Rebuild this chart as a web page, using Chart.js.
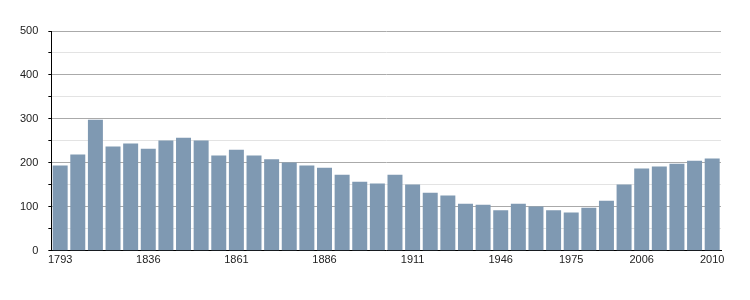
<!DOCTYPE html>
<html>
<head>
<meta charset="utf-8">
<script src="https://cdn.jsdelivr.net/npm/chart.js@4/dist/chart.umd.min.js"></script>
<style>
  html, body { margin: 0; padding: 0; background: #fff; }
  #wrap { width: 750px; height: 300px; position: relative; }
</style>
</head>
<body>
<div id="wrap"><canvas id="canvas"></canvas></div>
<script>
var years = ['1793', '1800', '1806', '1821', '1831', '1836', '1841', '1846', '1851', '1856',
    '1861', '1866', '1872', '1876', '1881', '1886', '1891', '1896', '1901', '1906',
    '1911', '1921', '1926', '1931', '1936', '1946', '1954', '1962', '1968', '1975',
    '1982', '1990', '1999', '2006', '2007', '2008', '2009', '2010'];
var population = [194, 219, 298, 237, 244, 232, 251, 257, 251, 217,
    230, 217, 208, 201, 194, 189, 173, 157, 153, 173,
    151, 132, 126, 107, 105, 92, 107, 101, 92, 87,
    98, 114, 151, 187, 192, 198, 205, 210];
var shownYears = ['1793', '1836', '1861', '1886', '1911', '1946', '1975', '2006', '2010'];
var yTicks = [0, 100, 200, 300, 400, 500];

try {
    var ctx = document.getElementById("canvas").getContext('2d');

    var myChart = new Chart(ctx, {
        type: 'bar',
        data: {
            labels: years,
            datasets: [{
                data: population,
                backgroundColor: '#7f99b2',
                borderWidth: 0,
                barPercentage: 0.85,
                categoryPercentage: 1
            }]
        },
        options: {
            responsive: true,
            maintainAspectRatio: false,
            animation: false,
            layout: { padding: { top: 31, right: 29, bottom: 30, left: 10 } },
            plugins: {
                legend: { display: false },
                tooltip: { enabled: false }
            },
            scales: {
                x: {
                    grid: { display: false, drawTicks: false },
                    border: { color: '#000', width: 1 },
                    ticks: {
                        autoSkip: false,
                        maxRotation: 0,
                        padding: 3,
                        color: '#222',
                        font: { family: 'Liberation Sans', size: 11 },
                        callback: function (v, i) {
                            return shownYears.indexOf(years[i]) >= 0 ? years[i] : '';
                        }
                    }
                },
                y: {
                    min: 0,
                    max: 500,
                    border: { color: '#000', width: 1 },
                    grid: {
                        color: function (c) {
                            return yTicks.indexOf(c.tick.value) >= 0 ? '#aaaaaa' : '#e3e3e3';
                        },
                        tickColor: '#000',
                        tickLength: 3
                    },
                    ticks: {
                        stepSize: 50,
                        padding: 10,
                        color: '#222',
                        font: { family: 'Liberation Sans', size: 11 },
                        callback: function (v) {
                            return yTicks.indexOf(v) >= 0 ? v : '';
                        }
                    }
                }
            }
        }
    });
} catch (e) {
    console.log(e.message);
}
</script>
</body>
</html>
